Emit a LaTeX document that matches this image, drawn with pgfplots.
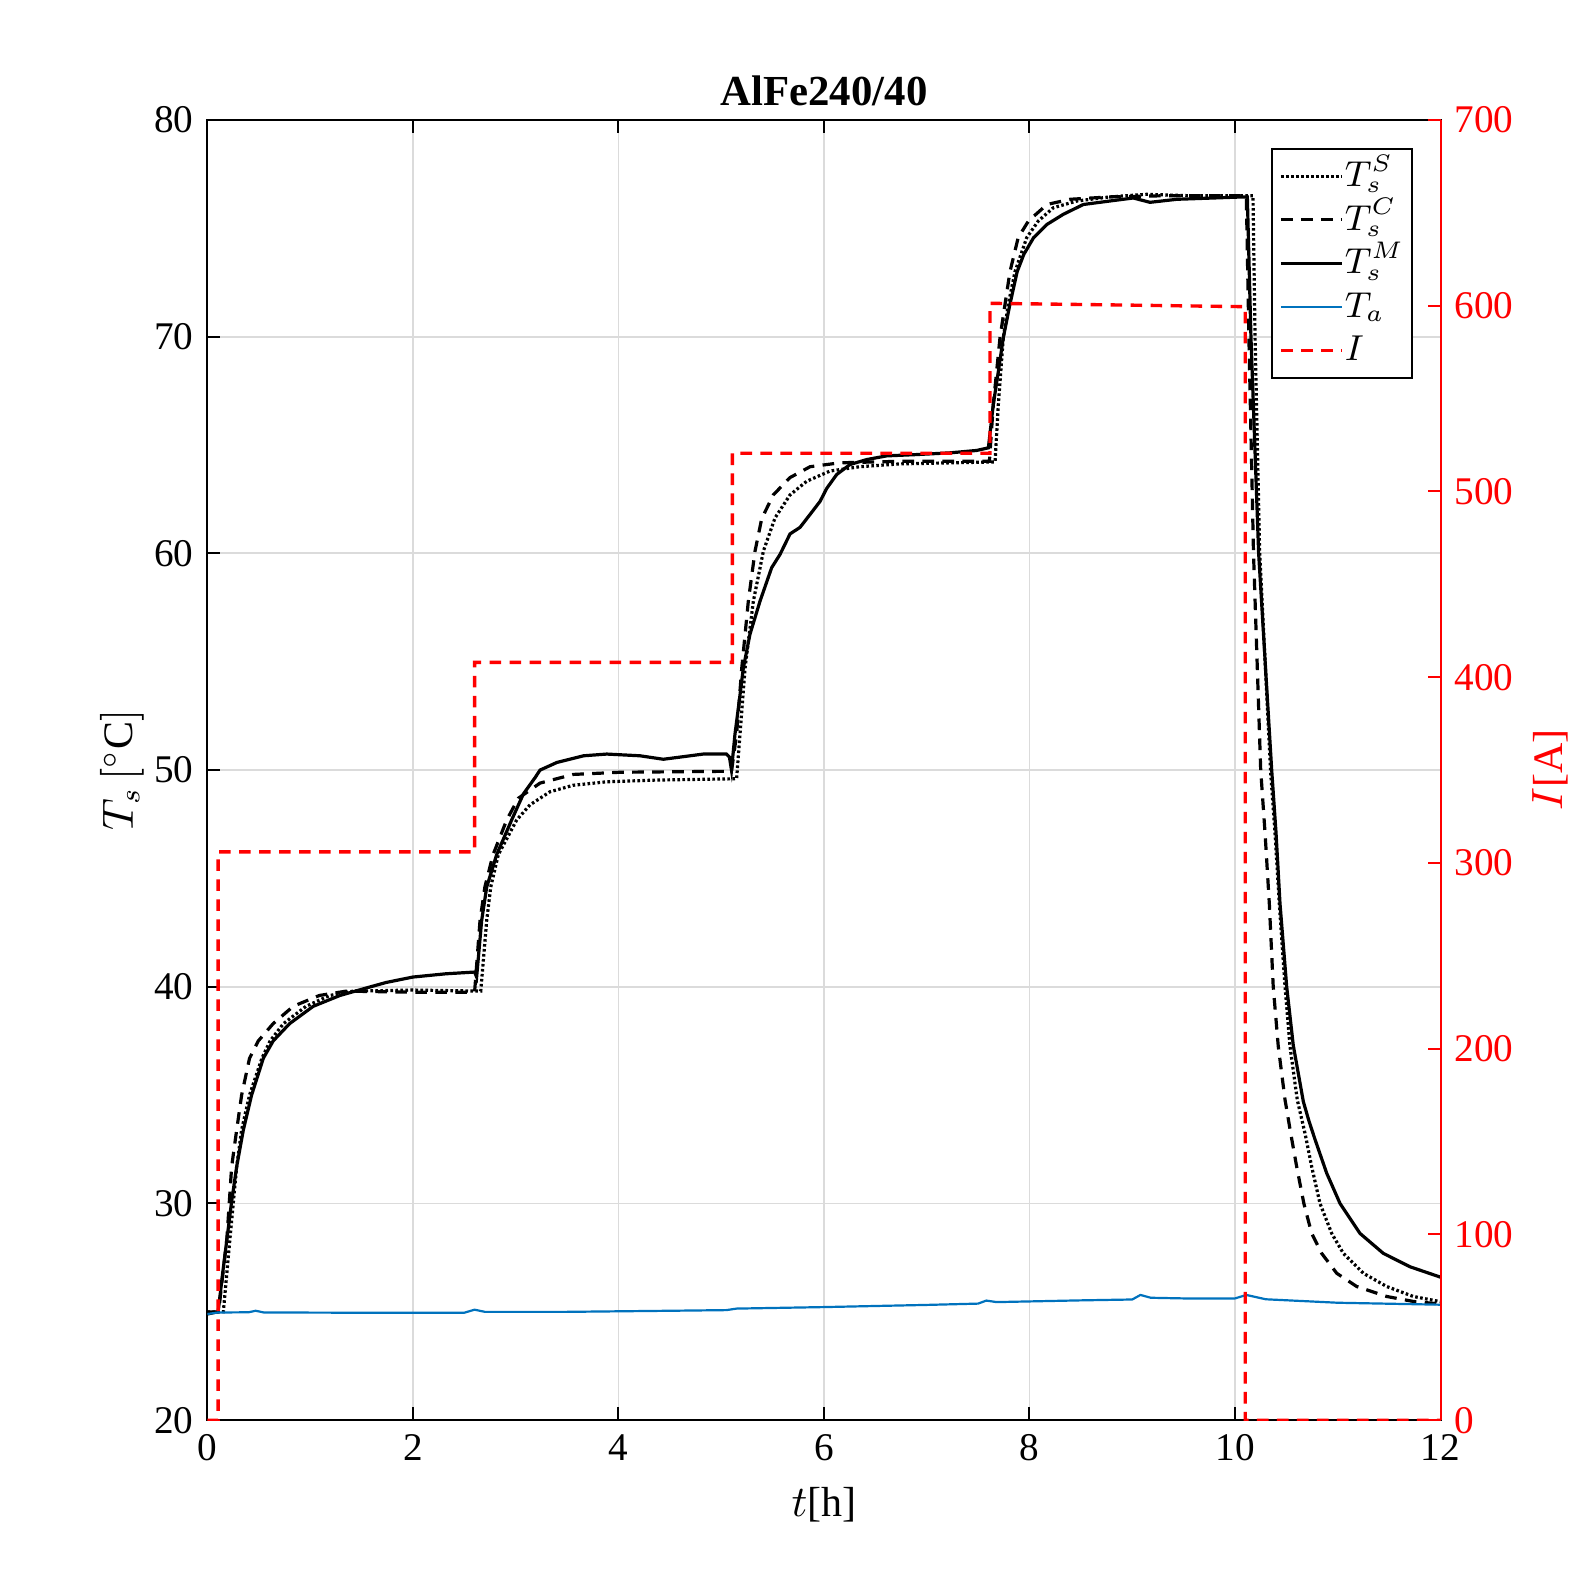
\documentclass[border=0pt]{standalone}
\usepackage{fontspec}
\setmainfont{Liberation Serif}
\usepackage{pgfplots}
\pgfplotsset{compat=1.18}
\definecolor{mblue}{rgb}{0,0.447,0.741}
\definecolor{gridc}{gray}{0.86}

\pgfplotstableread{
t T
0 25.0
0.155 25.0
0.22 28.4
0.285 31.7
0.333 33.4
0.41 35.0
0.53 36.7
0.61 37.5
0.74 38.3
0.96 39.1
1.19 39.6
1.42 39.8
2.0 39.85
2.66 39.8
2.718 43.06
2.757 44.6
2.831 46.1
3.01 47.7
3.14 48.4
3.334 49.0
3.56 49.3
3.886 49.46
4.37 49.54
5.15 49.6
5.183 51.66
5.232 54.7
5.313 57.8
5.41 60.1
5.524 61.64
5.67 62.7
5.832 63.33
6.059 63.8
6.35 64.0
6.74 64.13
7.665 64.22
7.697 66.88
7.745 69.95
7.794 71.5
7.859 73.0
7.973 74.57
8.086 75.34
8.232 75.95
8.46 76.26
8.78 76.45
9.14 76.57
9.594 76.5
10.175 76.5
10.195 70
10.24 60
10.345 50
10.389 47.12
10.431 43.83
10.487 40.0
10.535 37.25
10.606 34.78
10.681 33.24
10.746 31.7
10.827 30.0
10.941 28.62
11.054 27.7
11.249 26.78
11.476 26.17
11.735 25.71
12 25.47
}\TsS

\pgfplotstableread{
t T
0 25.0
0.105 25.0
0.116 25.3
0.19 28.4
0.236 31.7
0.285 33.4
0.333 35.0
0.41 36.7
0.495 37.5
0.64 38.3
0.835 39.1
1.09 39.6
1.35 39.8
2.0 39.75
2.60 39.75
2.653 43.06
2.70 44.6
2.78 46.1
2.913 47.7
3.026 48.7
3.237 49.4
3.56 49.8
4.015 49.9
4.956 49.94
5.10 49.94
5.15 51.66
5.20 54.7
5.264 57.8
5.329 60.1
5.394 61.6
5.507 62.7
5.67 63.5
5.865 64.0
6.156 64.18
6.74 64.25
7.61 64.25
7.648 66.88
7.713 69.95
7.762 71.5
7.81 73.0
7.89 74.57
7.99 75.34
8.17 76.1
8.394 76.34
8.78 76.45
9.27 76.5
10.11 76.5
10.135 70
10.18 60
10.25 50
10.292 47.12
10.334 43.83
10.372 40.0
10.421 37.25
10.487 34.78
10.542 33.24
10.600 31.7
10.67 30.0
10.746 28.62
10.843 27.7
10.99 26.78
11.184 26.17
11.476 25.71
11.735 25.48
12 25.36
}\TsC

\pgfplotstableread{
t T
0 24.9
0.10 25.0
0.107 25.1
0.149 26.8
0.236 30.1
0.285 31.7
0.35 33.4
0.43 35.0
0.544 36.7
0.64 37.5
0.80 38.3
1.03 39.1
1.29 39.6
1.55 39.95
1.74 40.2
2.0 40.45
2.32 40.6
2.60 40.68
2.62 40.45
2.669 43.06
2.718 44.6
2.815 46.1
2.961 47.7
3.075 48.9
3.19 49.66
3.237 50.0
3.40 50.35
3.66 50.66
3.886 50.74
4.21 50.66
4.437 50.5
4.6 50.6
4.826 50.74
5.05 50.74
5.08 50.6
5.10 50.0
5.134 51.66
5.176 53.2
5.215 54.7
5.28 56.27
5.378 57.8
5.491 59.34
5.572 59.95
5.67 60.9
5.767 61.2
5.865 61.8
5.962 62.4
6.027 63.0
6.124 63.64
6.253 64.1
6.416 64.33
6.61 64.5
6.9 64.56
7.227 64.64
7.486 64.75
7.60 64.87
7.648 66.88
7.697 68.4
7.745 69.95
7.81 71.5
7.88 73.0
7.945 73.8
8.04 74.57
8.17 75.18
8.33 75.65
8.524 76.1
8.78 76.26
9.01 76.4
9.173 76.2
9.433 76.34
9.79 76.4
10.08 76.45
10.12 76.45
10.155 70
10.23 60
10.357 50
10.399 47.12
10.438 43.83
10.503 40.0
10.567 37.3
10.665 34.7
10.72 33.8
10.779 32.95
10.892 31.4
11.022 30.0
11.216 28.62
11.443 27.7
11.703 27.08
12 26.6
}\TsM

\pgfplotstableread{
t T
0 24.9
0.1 24.97
0.4 24.98
0.47 25.05
0.55 24.97
1.5 24.96
2.5 24.96
2.6 25.1
2.7 25.0
3.5 25.0
4.5 25.05
5.05 25.08
5.15 25.15
6 25.22
7 25.32
7.5 25.38
7.58 25.52
7.68 25.45
8.5 25.53
9.0 25.57
9.08 25.78
9.18 25.65
9.5 25.62
10.0 25.62
10.11 25.78
10.3 25.58
11 25.42
12 25.33
}\Ta

\pgfplotstableread{
t I
0 0
0.105 0
0.105 306
2.60 306
2.60 408
5.108 408
5.108 520.6
7.616 520.6
7.616 601.3
10.10 599.5
10.10 0
12 0
}\Cur

\begin{document}
\begin{tikzpicture}
\begin{axis}[
  name=ax,
  scale only axis,
  width=308.28pt, height=325.05pt,
  xmin=0, xmax=12, ymin=20, ymax=80,
  xtick={0,2,...,12}, ytick={20,30,...,80},
  ytick pos=left,
  tick align=inside,
  major tick length=3.2pt,
  grid=major,
  major grid style={color=gridc, line width=0.45pt},
  axis line style={line width=0.5pt},
  every tick/.style={black, line width=0.5pt},
  ticklabel style={font=\fontsize{9.8}{12}\selectfont},
  /pgf/number format/assume math mode=true,
  xlabel={$t$[h]},
  ylabel={$T_s\,[^\circ\mathrm{C}]$},
  xlabel style={at={(axis description cs:0.5,-0.065)}, anchor=center, font=\fontsize{10.5}{12}\selectfont},
  ylabel style={at={(axis description cs:-0.0693,0.5)}, anchor=center, font=\fontsize{10.5}{12}\selectfont},
]
\addplot[black, line width=0.8pt, dash pattern=on 0.65pt off 0.6pt] table[x=t,y=T]{\TsS};
\addplot[black, line width=0.8pt, dash pattern=on 2.9pt off 2.1pt] table[x=t,y=T]{\TsC};
\addplot[black, line width=0.8pt] table[x=t,y=T]{\TsM};
\addplot[mblue, line width=0.55pt] table[x=t,y=T]{\Ta};
\end{axis}
\begin{axis}[
  scale only axis,
  width=308.28pt, height=325.05pt,
  xmin=0, xmax=12, ymin=0, ymax=700,
  axis x line=none,
  axis y line*=right,
  ytick={0,100,...,700},
  tick align=inside,
  major tick length=3.2pt,
  y axis line style={red, line width=0.5pt},
  every tick/.style={red, line width=0.5pt},
  yticklabel style={red, font=\fontsize{9.8}{12}\selectfont},
  /pgf/number format/assume math mode=true,
  ylabel={$I$[A]},
  ylabel style={red, at={(axis description cs:1.0888,0.5)}, anchor=center, font=\fontsize{10.5}{12}\selectfont},
  legend style={at={(axis description cs:0.9777,0.9785)}, anchor=north east, draw=black, line width=0.5pt, fill=white,
    font=\fontsize{9.2}{11}\selectfont, inner sep=1.7pt, row sep=0.7pt,
    nodes={inner sep=0.3pt, text height=7.4pt, text depth=2.2pt}},
  legend cell align=left,
  legend image code/.code={\draw[#1] (0pt,0pt) -- (15.25pt,0pt);},
]
\addlegendimage{black, line width=0.8pt, dash pattern=on 0.65pt off 0.6pt}
\addlegendentry{$T_s^S$}
\addlegendimage{black, line width=0.8pt, dash pattern=on 2.9pt off 2.1pt}
\addlegendentry{$T_s^C$}
\addlegendimage{black, line width=0.8pt}
\addlegendentry{$T_s^M$\hspace{1.5pt}}
\addlegendimage{mblue, line width=0.55pt}
\addlegendentry{$T_a$}
\addplot[red, line width=0.85pt, dash pattern=on 2.9pt off 2.1pt] table[x=t,y=I]{\Cur};
\addlegendentry{$I$}
\end{axis}
\node[anchor=base, font=\bfseries\fontsize{10.7}{12}\selectfont] at ([yshift=3.6pt]ax.north) {AlFe240/40};
\pgfresetboundingbox
\path ([shift={(-51.85pt,-43.45pt)}]ax.south west) rectangle ([shift={(37.875pt,30pt)}]ax.north east);
\end{tikzpicture}
\end{document}
